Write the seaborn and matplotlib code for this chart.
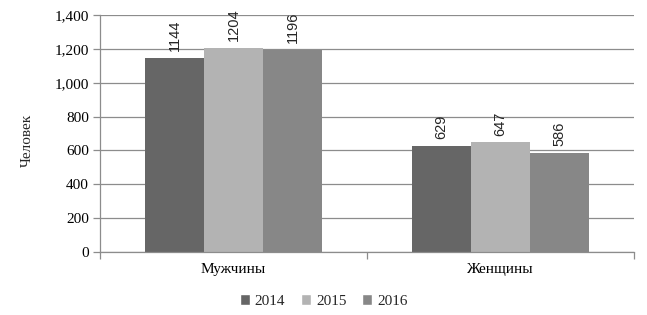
import matplotlib
matplotlib.use("Agg")
import matplotlib.pyplot as plt
import seaborn as sns
import pandas as pd
from matplotlib.patches import Patch
from matplotlib.ticker import FuncFormatter, FixedLocator

categories = ["Мужчины", "Женщины"]
years = ["2014", "2015", "2016"]
values_2014 = [1144, 629]
values_2015 = [1204, 647]
values_2016 = [1196, 586]
colors = ["#666666", "#b3b3b3", "#878787"]

rows = []
for y, vals in zip(years, [values_2014, values_2015, values_2016]):
    for c, v in zip(categories, vals):
        rows.append({"cat": c, "year": y, "val": v})
df = pd.DataFrame(rows)

sns.set_theme(style="white")
plt.rcParams["font.family"] = ["Liberation Serif", "DejaVu Serif"]

fig = plt.figure(figsize=(6.47, 3.15), dpi=100)
ax = fig.add_axes([100/647, 1-252/315, 534/647, 237/315])

sns.barplot(data=df, x="cat", y="val", hue="year", order=categories, hue_order=years,
            palette=colors, width=0.663, saturation=1, ax=ax, legend=False, linewidth=0)

ax.set_xlim(-0.5, 1.5)
ax.set_ylim(0, 1400)
ax.set_yticks(range(0, 1401, 200))
ax.yaxis.set_major_formatter(FuncFormatter(lambda v, p: f"{int(v):,}"))
ax.grid(axis="y", color="#8c8c8c", linewidth=0.9)
ax.set_axisbelow(True)
for s in ["top", "right"]:
    ax.spines[s].set_visible(False)
for s in ["left", "bottom"]:
    ax.spines[s].set_color("#8c8c8c")
    ax.spines[s].set_linewidth(0.9)

ax.tick_params(axis="y", which="major", direction="out", length=5, width=0.9, color="#8c8c8c",
               left=True, labelsize=11, labelcolor="black", pad=3)
ax.tick_params(axis="x", which="major", length=0, labelsize=11, labelcolor="black", pad=8)
ax.xaxis.set_minor_locator(FixedLocator([-0.5, 0.5, 1.5]))
ax.tick_params(axis="x", which="minor", direction="out", length=5, width=0.9, color="#8c8c8c", bottom=True)
ax.set_xlabel("")
ax.set_ylabel("Человек", fontsize=11)
ax.yaxis.set_label_coords(-0.124, 0.473)

for cont in ax.containers:
    ax.bar_label(cont, fmt="%d", rotation=90, padding=5, fontsize=10.5,
                 family=["Liberation Sans", "DejaVu Sans"])

handles = [Patch(facecolor=c, label=y) for c, y in zip(colors, years)]
fig.legend(handles=handles, loc="center", bbox_to_anchor=(0.5, 1-301/315), ncol=3,
           frameon=False, fontsize=11, handlelength=0.7, handleheight=0.7,
           handletextpad=0.3, columnspacing=1.0)

fig.savefig("out.png", dpi=100)
